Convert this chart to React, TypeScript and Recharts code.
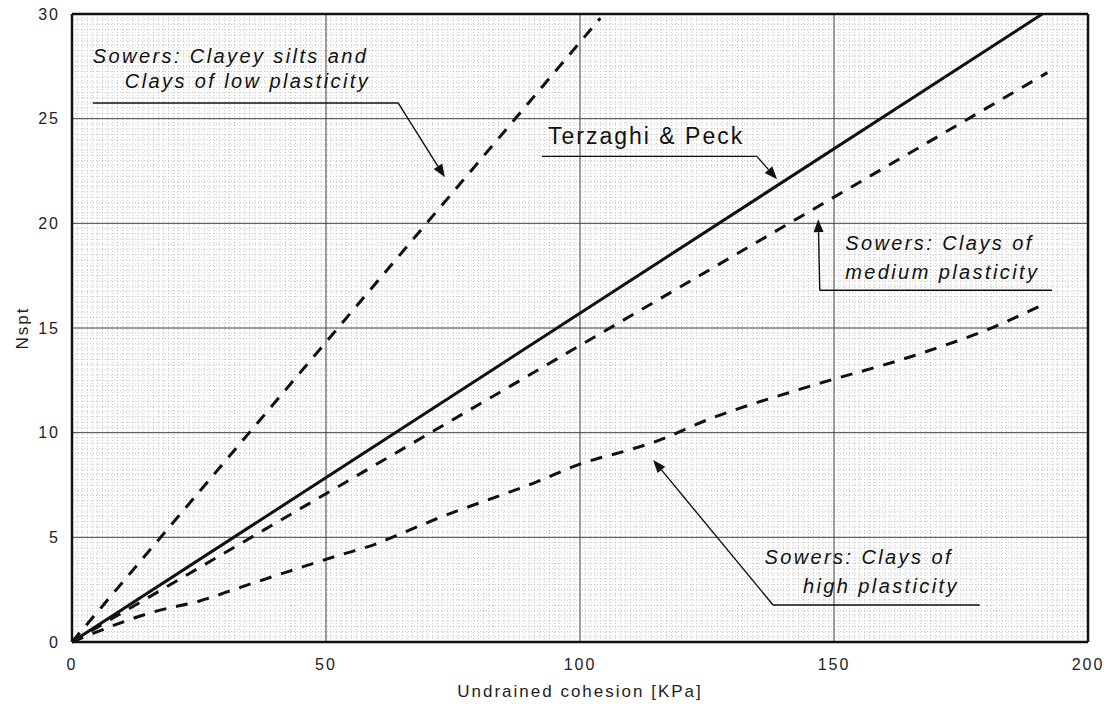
import React from 'react'
import {
  LineChart, Line, XAxis, YAxis, CartesianGrid,
  ReferenceLine, ReferenceDot,
} from 'recharts'

// values (cohesion kPa -> Nspt)
const cohesionTP = [0, 191]
const nsptTP = [0, 30]
const cohesionLow = [0, 104]
const nsptLow = [0, 29.8]
const cohesionMed = [0, 192]
const nsptMed = [0, 27.2]
const cohesionHigh = [0, 17, 25, 33, 43, 52, 60, 65, 74, 82, 91, 100, 110, 114, 126, 145, 166, 182, 191]
const nsptHigh = [0, 1.5, 1.95, 2.6, 3.4, 4.1, 4.7, 5.2, 6.1, 6.8, 7.6, 8.5, 9.2, 9.5, 10.7, 12.2, 13.7, 15.1, 16.1]

const xTicks = [0, 50, 100, 150, 200]
const yTicks = [0, 5, 10, 15, 20, 25, 30]

const toRows = (cs: number[], ns: number[]) => cs.map((c, i) => ({ c, n: ns[i] }))

const FONT = '"Liberation Sans", Arial, sans-serif'
const W = 1112
const H = 722

// leader lines and labels, in data units
const leaders = [
  { from: [4.1, 25.75], to: [64.2, 25.75], arrow: false },
  { from: [64.2, 25.75], to: [73.4, 22.2], arrow: true },
  { from: [92.5, 23.2], to: [134.8, 23.2], arrow: false },
  { from: [134.8, 23.2], to: [138.8, 22.1], arrow: true },
  { from: [192.9, 16.8], to: [147.2, 16.8], arrow: false },
  { from: [147.2, 16.8], to: [146.9, 20.2], arrow: true },
  { from: [178.7, 1.77], to: [138, 1.77], arrow: false },
  { from: [138, 1.77], to: [114.4, 8.7], arrow: true },
]

const labels = [
  { c: 4.1, n: 27.9, text: 'Sowers: Clayey silts and', anchor: 'start', italic: true },
  { c: 10.4, n: 26.7, text: 'Clays of low plasticity', anchor: 'start', italic: true },
  { c: 93.7, n: 24.1, text: 'Terzaghi & Peck', anchor: 'start', italic: false },
  { c: 152.2, n: 19.0, text: 'Sowers: Clays of', anchor: 'start', italic: true },
  { c: 152.2, n: 17.6, text: 'medium plasticity', anchor: 'start', italic: true },
  { c: 173.4, n: 4.0, text: 'Sowers: Clays of', anchor: 'end', italic: true },
  { c: 174.6, n: 2.6, text: 'high plasticity', anchor: 'end', italic: true },
]

const ArrowShape = (arrow: boolean) => (p: any) => {
  const { x1, y1, x2, y2 } = p
  if (x1 == null) return null
  const ang = Math.atan2(y2 - y1, x2 - x1)
  const len = 13
  const hw = 5
  const bx = x2 - len * Math.cos(ang)
  const by = y2 - len * Math.sin(ang)
  const px = -Math.sin(ang) * hw
  const py = Math.cos(ang) * hw
  return (
    <g>
      <line x1={x1} y1={y1} x2={arrow ? bx : x2} y2={arrow ? by : y2} stroke="#111" strokeWidth={1.4} />
      {arrow && (
        <polygon points={`${x2},${y2} ${bx + px},${by + py} ${bx - px},${by - py}`} fill="#111" />
      )}
    </g>
  )
}

const minorV = (props: any) => {
  const { offset } = props
  const out: number[] = []
  for (let i = 1; i < 200; i++) out.push(offset.left + (offset.width * i) / 200)
  return out
}
const minorH = (props: any) => {
  const { offset } = props
  const out: number[] = []
  for (let i = 1; i < 120; i++) out.push(offset.top + (offset.height * i) / 120)
  return out
}

export default function App() {
  const tick = { fontSize: 16, fill: '#222', fontFamily: FONT, letterSpacing: 2 }
  const titleStyle = { fontSize: 17, fill: '#222', fontFamily: FONT, letterSpacing: 2 }
  return (
    <div style={{ position: 'absolute', left: 0, top: 0, width: W, height: H, background: '#fff' }}>
      <LineChart width={W} height={H} margin={{ top: 14, right: 24, bottom: 50, left: 12 }}>
        <CartesianGrid
          stroke="#c4c4c4"
          strokeDasharray="1 2"
          verticalCoordinatesGenerator={minorV}
          horizontalCoordinatesGenerator={minorH}
        />
        <CartesianGrid stroke="#444" strokeWidth={1} />
        <XAxis
          type="number"
          dataKey="c"
          domain={[0, 200]}
          ticks={xTicks}
          axisLine={false}
          tickLine={false}
          tickSize={0}
          tickMargin={17}
          height={30}
          tick={tick}
          label={{ value: 'Undrained cohesion [KPa]', position: 'bottom', offset: 13, style: titleStyle }}
        />
        <YAxis
          type="number"
          dataKey="n"
          domain={[0, 30]}
          ticks={yTicks}
          axisLine={false}
          tickLine={false}
          tickSize={0}
          tickMargin={12}
          width={60}
          tick={tick}
          label={{ value: 'Nspt', angle: -90, position: 'insideLeft', offset: 10, style: { ...titleStyle, textAnchor: 'middle' } }}
        />

        {/* frame */}
        <ReferenceLine y={0} stroke="#111" strokeWidth={2.5} />
        <ReferenceLine y={30} stroke="#111" strokeWidth={2.5} />
        <ReferenceLine x={0} stroke="#111" strokeWidth={2.5} />
        <ReferenceLine x={200} stroke="#111" strokeWidth={2.5} />

        <Line data={toRows(cohesionTP, nsptTP)} dataKey="n" type="linear" stroke="#111" strokeWidth={3} dot={false} isAnimationActive={false} />
        <Line data={toRows(cohesionLow, nsptLow)} dataKey="n" type="linear" stroke="#111" strokeWidth={3} strokeDasharray="12 10" dot={false} isAnimationActive={false} />
        <Line data={toRows(cohesionMed, nsptMed)} dataKey="n" type="linear" stroke="#111" strokeWidth={3} strokeDasharray="12 10" dot={false} isAnimationActive={false} />
        <Line data={toRows(cohesionHigh, nsptHigh)} dataKey="n" type="monotone" stroke="#111" strokeWidth={3} strokeDasharray="12 10" dot={false} isAnimationActive={false} />

        {leaders.map((l, i) => (
          <ReferenceLine
            key={'l' + i}
            segment={[{ x: l.from[0], y: l.from[1] }, { x: l.to[0], y: l.to[1] }]}
            shape={ArrowShape(l.arrow)}
          />
        ))}
        {labels.map((t, i) => (
          <ReferenceDot
            key={'t' + i}
            x={t.c}
            y={t.n}
            r={0}
            shape={(p: any) => (
              <text
                x={p.cx}
                y={p.cy}
                textAnchor={t.anchor as any}
                dominantBaseline="middle"
                fontFamily={FONT}
                fontSize={t.italic ? 20 : 23}
                fontStyle={t.italic ? 'italic' : 'normal'}
                letterSpacing={t.italic ? 2.4 : 2}
                fill="#111"
              >
                {t.text}
              </text>
            )}
          />
        ))}
      </LineChart>
    </div>
  )
}
